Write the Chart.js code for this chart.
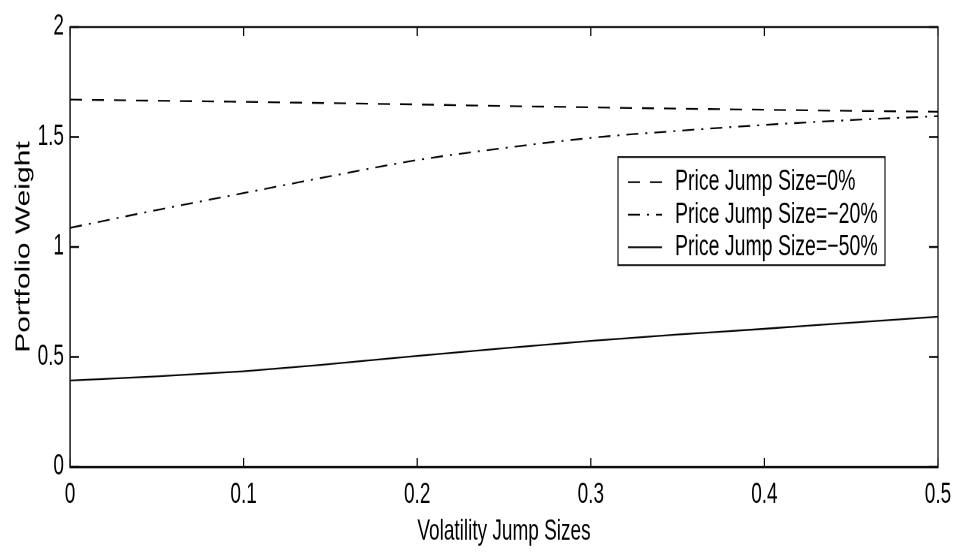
<!DOCTYPE html>
<html>
<head>
<meta charset="utf-8">
<script src="https://cdn.jsdelivr.net/npm/chart.js@4.4.0/dist/chart.umd.min.js"></script>
<style>
  html, body { margin: 0; padding: 0; background: #fff; }
  #wrap { position: relative; width: 964px; height: 560px; }
  /* the reference is a figure stretched vertically, so text looks tall and narrow */
  #weightChart { position: absolute; left: 0; top: 0; transform: scaleY(1.5013); transform-origin: 0 0; }
</style>
</head>
<body>
<div id="wrap"><canvas id="weightChart" width="964" height="373"></canvas></div>
<script>
const volJumps = [0, 0.05, 0.1, 0.15, 0.2, 0.25, 0.3, 0.35, 0.4, 0.45, 0.5];
const weightJump0 = [1.670, 1.665, 1.660, 1.654, 1.648, 1.641, 1.635, 1.629, 1.624, 1.619, 1.615];
const weightJump20 = [1.087, 1.168, 1.245, 1.322, 1.395, 1.450, 1.496, 1.528, 1.555, 1.577, 1.595];
const weightJump50 = [0.393, 0.412, 0.435, 0.468, 0.505, 0.540, 0.573, 0.602, 0.628, 0.656, 0.683];
const seriesLabels = ["Price Jump Size=0%", "Price Jump Size=\u221220%", "Price Jump Size=\u221250%"];
const xTickLabels = ["0", "0.1", "0.2", "0.3", "0.4", "0.5"];
const yTickLabels = ["0", "0.5", "1", "1.5", "2"];

const family = "'Liberation Sans', Arial, Helvetica, sans-serif";

const toPoints = ys => volJumps.map((x, i) => ({ x: x, y: ys[i] }));

const lineStyle = {
  borderColor: "#000",
  backgroundColor: "transparent",
  borderWidth: 1.15,
  pointRadius: 0,
  fill: false,
  cubicInterpolationMode: "monotone"
};

// box round the plot with inward ticks on all four sides
const frame = {
  id: "frame",
  afterDraw(chart) {
    const { ctx, chartArea: a, scales } = chart;
    ctx.save();
    ctx.strokeStyle = "#000";
    ctx.lineWidth = 1.2;
    ctx.strokeRect(a.left, a.top, a.right - a.left, a.bottom - a.top);
    ctx.beginPath();
    scales.x.ticks.forEach(t => {
      const px = scales.x.getPixelForValue(t.value);
      ctx.moveTo(px, a.bottom); ctx.lineTo(px, a.bottom - 6);
      ctx.moveTo(px, a.top); ctx.lineTo(px, a.top + 6);
    });
    scales.y.ticks.forEach(t => {
      const py = scales.y.getPixelForValue(t.value);
      ctx.moveTo(a.left, py); ctx.lineTo(a.left + 9, py);
      ctx.moveTo(a.right, py); ctx.lineTo(a.right - 9, py);
    });
    ctx.stroke();
    ctx.restore();
  }
};

// boxed legend inside the plot, built from the datasets
const boxLegend = {
  id: "boxLegend",
  afterDraw(chart) {
    const { ctx, chartArea: a } = chart;
    const left = a.right - 320, top = 104.6, w = 267, h = 72;
    ctx.save();
    ctx.fillStyle = "#fff";
    ctx.fillRect(left, top, w, h);
    ctx.strokeStyle = "#000";
    ctx.lineWidth = 1.1;
    ctx.strokeRect(left, top, w, h);
    ctx.font = "19.5px " + family;
    ctx.textBaseline = "middle";
    chart.data.datasets.forEach((ds, i) => {
      const y = top + 16.7 + i * 21.7;
      ctx.beginPath();
      ctx.setLineDash(ds.borderDash || []);
      ctx.lineWidth = ds.borderWidth;
      ctx.moveTo(left + 10, y);
      ctx.lineTo(left + 44, y);
      ctx.stroke();
      ctx.setLineDash([]);
      ctx.fillStyle = "#000";
      ctx.fillText(ds.label, left + 57, y);
    });
    ctx.restore();
  }
};

new Chart(document.getElementById("weightChart"), {
  type: "line",
  data: {
    datasets: [
      { ...lineStyle, label: seriesLabels[0], data: toPoints(weightJump0), borderDash: [12, 10] },
      { ...lineStyle, label: seriesLabels[1], data: toPoints(weightJump20), borderDash: [12, 7, 2, 7] },
      { ...lineStyle, label: seriesLabels[2], data: toPoints(weightJump50) }
    ]
  },
  options: {
    responsive: false,
    animation: false,
    devicePixelRatio: 2,
    layout: { padding: { left: 0, top: 18, right: 26, bottom: 0 } },
    plugins: { legend: { display: false }, tooltip: { enabled: false } },
    scales: {
      x: {
        type: "linear", min: 0, max: 0.5,
        ticks: { stepSize: 0.1, color: "#000", padding: 7.5, maxRotation: 0,
                 font: { family: family, size: 19 }, callback: (v, i) => xTickLabels[i] },
        grid: { display: false, drawTicks: false },
        border: { color: "#000", width: 1.4 },
        title: { display: true, text: "Volatility Jump Sizes", color: "#000",
                 font: { family: family, size: 19 }, padding: { top: 0, bottom: 7.5 } },
        afterFit: s => { s.height = 62; }
      },
      y: {
        min: 0, max: 2,
        ticks: { stepSize: 0.5, color: "#000", padding: 6,
                 font: { family: family, size: 19 }, callback: (v, i) => yTickLabels[i] },
        grid: { display: false, drawTicks: false },
        border: { color: "#000", width: 1.2 },
        title: { display: true, text: "Portfolio Weight", color: "#000",
                 font: { family: family, size: 20 }, padding: { top: 12, bottom: 0 } },
        afterFit: s => { s.width = 70; }
      }
    }
  },
  plugins: [frame, boxLegend]
});
</script>
</body>
</html>
